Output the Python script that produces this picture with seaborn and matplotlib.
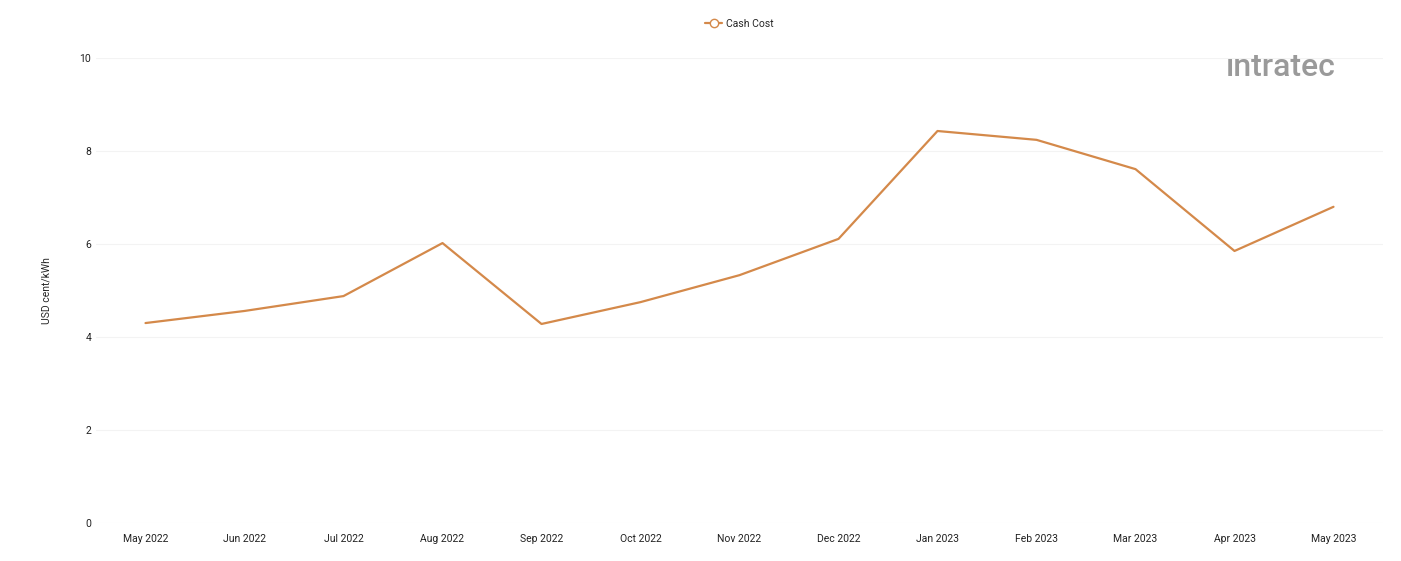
import matplotlib
matplotlib.use('Agg')
import matplotlib.pyplot as plt
from matplotlib.lines import Line2D
import seaborn as sns
import pandas as pd

months = ['May 2022', 'Jun 2022', 'Jul 2022', 'Aug 2022', 'Sep 2022', 'Oct 2022', 'Nov 2022',
          'Dec 2022', 'Jan 2023', 'Feb 2023', 'Mar 2023', 'Apr 2023', 'May 2023']
cash_cost = [4.30, 4.56, 4.88, 6.02, 4.28, 4.75, 5.33, 6.11, 8.43, 8.24, 7.61, 5.85, 6.80]

sns.set_style('white')
plt.rcParams['font.family'] = ['Roboto', 'DejaVu Sans']

df = pd.DataFrame({'month': range(len(months)), 'Cash Cost': cash_cost})
color = '#D4894A'

fig = plt.figure(figsize=(14.01, 5.61), dpi=100)
ax = fig.add_axes([96 / 1401, 38 / 561, (1383 - 96) / 1401, (523 - 58) / 561])
sns.lineplot(data=df, x='month', y='Cash Cost', ax=ax, color=color, linewidth=1.6, legend=False)

ax.set_ylim(0, 10)
ax.set_xlim(-0.5, len(months) - 0.5)
ax.set_yticks([0, 2, 4, 6, 8, 10])
ax.set_xticks(range(len(months)))
ax.set_xticklabels(months)
ax.tick_params(axis='both', labelsize=7.5, colors='#222222', length=0)
ax.tick_params(axis='x', pad=8)
ax.set_xlabel('')
ax.set_ylabel('USD cent/kWh', fontsize=7.5, labelpad=20)
ax.grid(axis='y', color='#f3f3f3', linewidth=0.8)
for s in ['top', 'right', 'left', 'bottom']:
    ax.spines[s].set_visible(False)

handle = Line2D([], [], color=color, linewidth=1.6, marker='o', markersize=6,
                markerfacecolor='white', markeredgecolor=color)
ax.legend([handle], ['Cash Cost'], loc='center', bbox_to_anchor=(0.5, 1.073),
          frameon=False, fontsize=7.5, handlelength=1.6, handletextpad=0.4)

fig.text(1226 / 1401, 1 - 68 / 561, 'ıntratec', fontsize=23, color='#9a9a9a',
         va='center', ha='left', fontweight='medium')

fig.savefig('out.png', dpi=100)
